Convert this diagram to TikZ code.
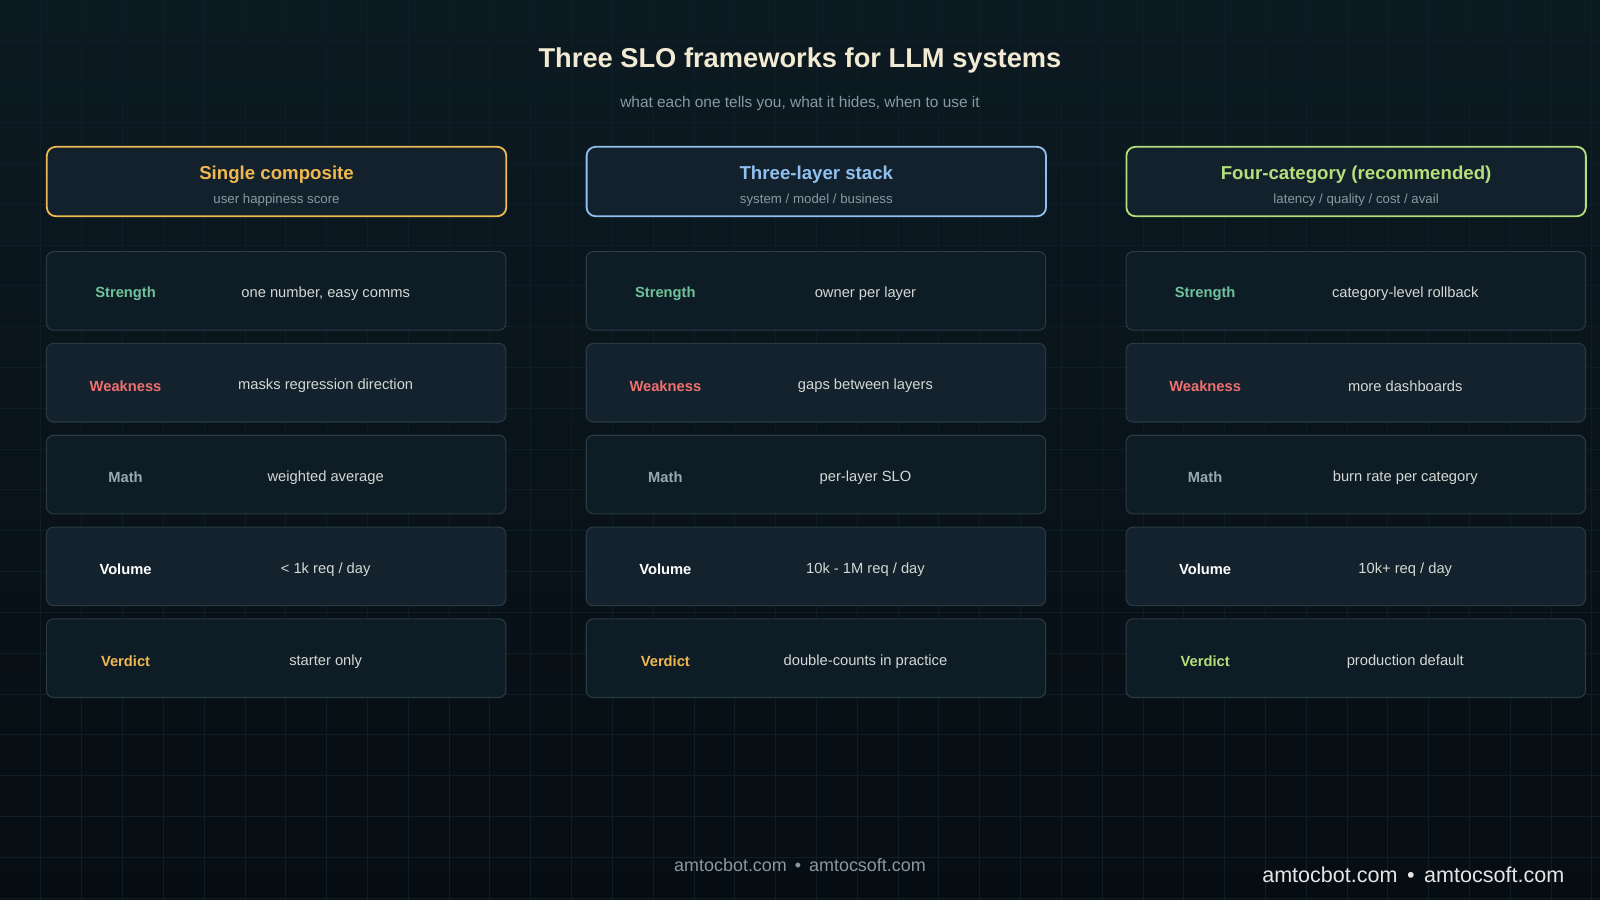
\documentclass[tikz,border=0pt]{standalone}
\usepackage{fontspec}
\setmainfont{Liberation Sans}
\definecolor{bgtop}{HTML}{0C1A22}
\definecolor{bgbot}{HTML}{060D12}
\definecolor{gridc}{HTML}{0F1E26}
\definecolor{headfill}{HTML}{12212B}
\definecolor{rowa}{HTML}{0E1C25}
\definecolor{rowb}{HTML}{13222D}
\definecolor{rowline}{HTML}{2A3A45}
\definecolor{cOrange}{HTML}{F0B850}
\definecolor{cBlue}{HTML}{90C0F0}
\definecolor{cGreen}{HTML}{B4E07C}
\definecolor{cStrength}{HTML}{6FC39A}
\definecolor{cWeak}{HTML}{F07070}
\definecolor{cMath}{HTML}{9AA8B0}
\definecolor{cText}{HTML}{D4D8D4}
\definecolor{cSub}{HTML}{8A98A2}
\definecolor{cTitle}{HTML}{F2EAD3}
\newcommand{\fsz}[1]{\fontsize{#1}{#1}\selectfont}
\begin{document}
\begin{tikzpicture}[x=0.01cm,y=-0.01cm,
  headbox/.style={draw=#1, line width=0.5pt, rounded corners=2.5pt, fill=headfill,
    minimum width=4.5cm, minimum height=0.68cm, anchor=north west, inner sep=0},
  rowbox/.style={draw=rowline, line width=0.3pt, rounded corners=2pt, fill=#1,
    minimum width=4.5cm, minimum height=0.77cm, anchor=north west, inner sep=0},
  tag/.style={text=#1, font=\bfseries\fsz{4.1pt}},
  val/.style={text=cText, font=\fsz{4.1pt}},
  heading/.style={text=#1, font=\bfseries\fsz{5.2pt}},
  subline/.style={text=cSub, font=\fsz{3.7pt}}]

% background
\useasboundingbox (0,0) rectangle (1568,882);
\shade[top color=bgtop, bottom color=bgbot] (0,0) rectangle (1568,882);
\foreach \gx in {40,80,...,1560} \draw[gridc, line width=0.2pt] (\gx,0) -- (\gx,882);
\foreach \gy in {40,80,...,880} \draw[gridc, line width=0.2pt] (0,\gy) -- (1568,\gy);

% title
\node (title) at (784,59) [text=cTitle, font=\bfseries\fsz{7.6pt}] {Three SLO frameworks for LLM systems};
\node (subtitle) at (784,101) [text=cSub, font=\fsz{4.3pt}] {what each one tells you, what it hides, when to use it};

% columns
\foreach \cx/\col/\head/\sub/\vcol/\s/\w/\m/\v/\d [count=\i] in {
  45/cOrange/Single composite/user happiness score/cOrange/{one number, easy comms}/masks regression direction/weighted average/{< 1k req {/} day}/starter only,
  574/cBlue/Three-layer stack/{system {/} model {/} business}/cOrange/owner per layer/gaps between layers/per-layer SLO/{10k - 1M req {/} day}/double-counts in practice,
  1103/cGreen/Four-category (recommended)/{latency {/} quality {/} cost {/} avail}/cGreen/category-level rollback/more dashboards/burn rate per category/{10k+ req {/} day}/production default}
{
  \node (head\i) at (\cx,143) [headbox=\col] {};
  \node (headT\i) at ([yshift=-0.28cm]head\i.north) [heading=\col] {\head};
  \node (headS\i) at ([yshift=-0.53cm]head\i.north) [subline] {\sub};
  \foreach \tg/\tc/\tv/\fl [count=\j] in {Strength/cStrength/\s/rowa, Weakness/cWeak/\w/rowb,
      Math/cMath/\m/rowa, Volume/white/\v/rowb, Verdict/\vcol/\d/rowa}
  {
    \node (row\i\j) at (\cx,{246+90*(\j-1)}) [rowbox=\fl] {};
    \node (tag\i\j) at ([xshift=0.78cm,yshift=-0.03cm]row\i\j.west) [tag=\tc] {\tg};
    \node (val\i\j) at ([xshift=2.74cm,yshift=-0.03cm]row\i\j.west) [val] {\tv};
  }
}

% footer
\node (foot) at (784,848) [text=cSub, font=\fsz{5pt}] {amtocbot.com \,•\, amtocsoft.com};
\node (mark) at (1385,857) [text=white!80!gray, font=\fsz{6pt}] {amtocbot.com \,•\, amtocsoft.com};
\end{tikzpicture}
\end{document}
